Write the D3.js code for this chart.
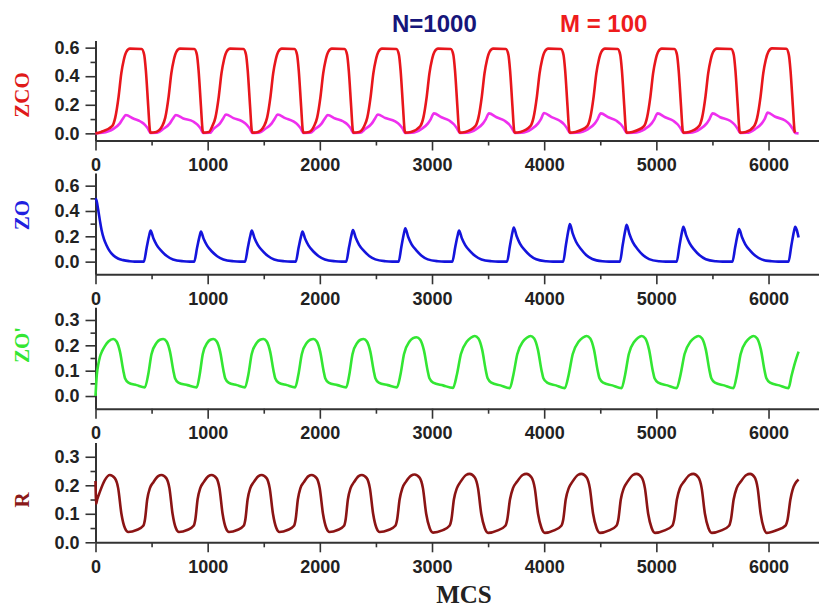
<!DOCTYPE html>
<html>
<head>
<meta charset="utf-8">
<script src="https://cdn.jsdelivr.net/npm/d3@7"></script>
<style>
  body { margin: 0; background: #fff; }
  svg { display: block; }
  .tick text { font-family: "Liberation Sans", Arial, sans-serif; font-weight: bold; font-size: 18px; fill: #222; }
</style>
</head>
<body>
<svg id="chart"></svg>
<script>
// tick values
const xTicks = [0, 1000, 2000, 3000, 4000, 5000, 6000];
const xMinorTicks = [500, 1500, 2500, 3500, 4500, 5500];

// ZCO (red) and second ZCO curve (magenta), [MCS, value]
const zco = [
  [0,0],[50,0.01],[148,0.05],[176,0.11],[206,0.257],[230,0.42],[252,0.514],[276,0.572],[307,0.593],[411,0.59],[434,0.55],[449,0.44],[470,0.19],[485,0.02],[491,0.005],
  [541,0.01],[594,0.05],[622,0.11],[652,0.257],[676,0.42],[698,0.514],[722,0.572],[753,0.593],[881,0.59],[904,0.55],[919,0.44],[940,0.19],[955,0.02],[961,0.005],
  [1011,0.01],[1041,0.05],[1069,0.11],[1099,0.257],[1123,0.42],[1145,0.514],[1169,0.572],[1200,0.593],[1319,0.59],[1342,0.55],[1357,0.44],[1378,0.19],[1393,0.02],[1399,0.005],
  [1449,0.01],[1502,0.05],[1530,0.11],[1560,0.257],[1584,0.42],[1606,0.514],[1630,0.572],[1661,0.593],[1774,0.59],[1797,0.55],[1812,0.44],[1833,0.19],[1848,0.02],[1854,0.005],
  [1904,0.01],[1948,0.05],[1976,0.11],[2006,0.257],[2030,0.42],[2052,0.514],[2076,0.572],[2107,0.593],[2220,0.59],[2243,0.55],[2258,0.44],[2279,0.19],[2294,0.02],[2300,0.005],
  [2350,0.01],[2395,0.05],[2423,0.11],[2453,0.257],[2477,0.42],[2499,0.514],[2523,0.572],[2554,0.593],[2682,0.59],[2705,0.55],[2720,0.44],[2741,0.19],[2756,0.02],[2762,0.005],
  [2812,0.01],[2895,0.05],[2923,0.11],[2953,0.257],[2977,0.42],[2999,0.514],[3023,0.572],[3054,0.593],[3167,0.59],[3190,0.55],[3205,0.44],[3226,0.19],[3241,0.02],[3247,0.005],
  [3297,0.01],[3386,0.05],[3414,0.11],[3444,0.257],[3468,0.42],[3490,0.514],[3514,0.572],[3545,0.593],[3658,0.59],[3681,0.55],[3696,0.44],[3717,0.19],[3732,0.02],[3738,0.005],
  [3788,0.01],[3877,0.05],[3905,0.11],[3935,0.257],[3959,0.42],[3981,0.514],[4005,0.572],[4036,0.593],[4149,0.59],[4172,0.55],[4187,0.44],[4208,0.19],[4223,0.02],[4229,0.005],
  [4279,0.01],[4383,0.05],[4411,0.11],[4441,0.257],[4465,0.42],[4487,0.514],[4511,0.572],[4542,0.593],[4655,0.59],[4678,0.55],[4693,0.44],[4714,0.19],[4729,0.02],[4735,0.005],
  [4785,0.01],[4889,0.05],[4917,0.11],[4947,0.257],[4971,0.42],[4993,0.514],[5017,0.572],[5048,0.593],[5161,0.59],[5184,0.55],[5199,0.44],[5220,0.19],[5235,0.02],[5241,0.005],
  [5291,0.01],[5380,0.05],[5408,0.11],[5438,0.257],[5462,0.42],[5484,0.514],[5508,0.572],[5539,0.593],[5667,0.59],[5690,0.55],[5705,0.44],[5726,0.19],[5741,0.02],[5747,0.005],
  [5797,0.01],[5871,0.05],[5899,0.11],[5929,0.257],[5953,0.42],[5975,0.514],[5999,0.572],[6030,0.595],[6158,0.592],[6181,0.55],[6196,0.44],[6217,0.19],[6232,0.02],[6238,0.005]
];

const zcoSecond = [
  [0,0.0],[60,0.004],[157,0.03],[217,0.07],[242,0.1],[270,0.128],[337,0.104],[401,0.083],[441,0.06],[466,0.035],[491,0.003],
  [551,0.004],[603,0.03],[663,0.07],[688,0.1],[716,0.128],[783,0.104],[871,0.083],[911,0.06],[936,0.035],[961,0.003],
  [1021,0.004],[1050,0.03],[1110,0.07],[1135,0.1],[1163,0.132],[1230,0.107],[1309,0.084],[1349,0.06],[1374,0.035],[1399,0.003],
  [1459,0.004],[1511,0.03],[1571,0.07],[1596,0.1],[1624,0.132],[1691,0.107],[1764,0.084],[1804,0.06],[1829,0.035],[1854,0.003],
  [1914,0.004],[1957,0.03],[2017,0.07],[2042,0.1],[2070,0.128],[2137,0.104],[2210,0.083],[2250,0.06],[2275,0.035],[2300,0.003],
  [2360,0.004],[2404,0.03],[2464,0.07],[2489,0.1],[2517,0.132],[2584,0.107],[2672,0.084],[2712,0.06],[2737,0.035],[2762,0.003],
  [2822,0.004],[2904,0.03],[2964,0.07],[2989,0.1],[3017,0.14],[3084,0.113],[3157,0.088],[3197,0.062],[3222,0.035],[3247,0.003],
  [3307,0.004],[3395,0.03],[3455,0.07],[3480,0.1],[3508,0.14],[3575,0.113],[3648,0.088],[3688,0.062],[3713,0.035],[3738,0.003],
  [3798,0.004],[3886,0.03],[3946,0.07],[3971,0.1],[3999,0.142],[4066,0.114],[4139,0.088],[4179,0.062],[4204,0.035],[4229,0.003],
  [4289,0.004],[4392,0.03],[4452,0.07],[4477,0.1],[4505,0.14],[4572,0.113],[4645,0.088],[4685,0.062],[4710,0.035],[4735,0.003],
  [4795,0.004],[4898,0.03],[4958,0.07],[4983,0.1],[5011,0.14],[5078,0.113],[5151,0.088],[5191,0.062],[5216,0.035],[5241,0.003],
  [5301,0.004],[5389,0.03],[5449,0.07],[5474,0.1],[5502,0.14],[5569,0.113],[5657,0.088],[5697,0.062],[5722,0.035],[5747,0.003],
  [5807,0.004],[5880,0.03],[5940,0.07],[5965,0.1],[5993,0.145],[6060,0.116],[6148,0.09],[6188,0.063],[6213,0.035],[6238,0.003],[6268,0.0]
];

// ZO (blue)
const zo = [
  [0,0.5],[10,0.48],[24,0.41],[40,0.32],[54,0.25],[75,0.18],[98,0.13],[125,0.085],[158,0.05],[200,0.025],[247,0.012],[300,0.004],[350,0.0],
  [431,0],[456,0.11],[479,0.208],[491,0.245],[516,0.184],[546,0.13],[591,0.081],[636,0.044],[691,0.017],[781,0.003],[841,0],
  [880,0],[905,0.107],[928,0.201],[940,0.237],[965,0.178],[995,0.126],[1040,0.078],[1085,0.043],[1140,0.017],[1230,0.003],[1290,0],
  [1333,0],[1358,0.11],[1381,0.208],[1393,0.245],[1418,0.184],[1448,0.13],[1493,0.081],[1538,0.044],[1593,0.017],[1683,0.003],[1743,0],
  [1785,0],[1810,0.107],[1833,0.201],[1845,0.237],[1870,0.178],[1900,0.126],[1945,0.078],[1990,0.043],[2045,0.017],[2135,0.003],[2195,0],
  [2235,0],[2260,0.113],[2283,0.213],[2295,0.25],[2320,0.188],[2350,0.133],[2395,0.083],[2440,0.045],[2495,0.018],[2585,0.003],[2645,0],
  [2702,0],[2727,0.118],[2750,0.224],[2762,0.263],[2787,0.197],[2817,0.139],[2862,0.087],[2907,0.047],[2962,0.018],[3052,0.003],[3112,0],
  [3181,0],[3206,0.11],[3229,0.208],[3241,0.245],[3266,0.184],[3296,0.13],[3341,0.081],[3386,0.044],[3441,0.017],[3531,0.003],[3591,0],
  [3669,0],[3694,0.122],[3717,0.23],[3729,0.27],[3754,0.203],[3784,0.143],[3829,0.089],[3874,0.049],[3929,0.019],[4019,0.003],[4079,0],
  [4169,0],[4194,0.134],[4217,0.252],[4229,0.297],[4254,0.223],[4284,0.157],[4329,0.098],[4374,0.053],[4429,0.021],[4519,0.003],[4579,0],
  [4675,0],[4700,0.131],[4723,0.247],[4735,0.29],[4760,0.218],[4790,0.154],[4835,0.096],[4880,0.052],[4935,0.02],[5025,0.003],[5085,0],
  [5181,0],[5206,0.124],[5229,0.235],[5241,0.276],[5266,0.207],[5296,0.146],[5341,0.091],[5386,0.05],[5441,0.019],[5531,0.003],[5591,0],
  [5678,0],[5703,0.116],[5726,0.219],[5738,0.258],[5763,0.194],[5793,0.137],[5838,0.085],[5883,0.046],[5938,0.018],[6028,0.003],[6088,0],
  [6178,0],[6203,0.124],[6226,0.235],[6238,0.276],[6252,0.25],[6268,0.19]
];

// ZO' (green)
const zoPrime = [
  [0,0.0],[5,0.04],[12,0.085],[25,0.125],[40,0.155],[60,0.178],[85,0.198],[115,0.215],[158,0.225],
  [188,0.215],[218,0.175],[248,0.10],[263,0.07],[293,0.053],[366,0.043],[440,0.034],
  [470,0.085],[499,0.165],[545,0.21],[574,0.222],[604,0.225],
  [634,0.215],[664,0.175],[694,0.10],[709,0.07],[739,0.053],[820,0.043],[902,0.034],
  [929,0.085],[956,0.165],[997,0.21],[1024,0.222],[1051,0.225],
  [1081,0.215],[1111,0.175],[1141,0.10],[1156,0.07],[1186,0.053],[1260,0.043],[1333,0.034],
  [1363,0.085],[1392,0.165],[1438,0.21],[1467,0.222],[1497,0.225],
  [1527,0.215],[1557,0.175],[1587,0.10],[1602,0.07],[1632,0.053],[1706,0.043],[1780,0.034],
  [1809,0.085],[1839,0.165],[1884,0.21],[1914,0.222],[1943,0.225],
  [1973,0.215],[2003,0.175],[2033,0.10],[2048,0.07],[2078,0.053],[2157,0.043],[2235,0.034],
  [2263,0.085],[2291,0.165],[2334,0.21],[2362,0.222],[2390,0.225],
  [2420,0.215],[2450,0.175],[2480,0.10],[2495,0.07],[2525,0.053],[2606,0.043],[2687,0.034],
  [2719,0.085],[2750,0.165],[2799,0.215],[2831,0.228],[2862,0.232],
  [2895,0.222],[2928,0.18],[2961,0.10],[2977,0.07],[3010,0.053],[3098,0.042],[3187,0.032],
  [3222,0.085],[3257,0.165],[3311,0.215],[3346,0.23],[3381,0.237],
  [3414,0.227],[3447,0.183],[3480,0.10],[3496,0.07],[3529,0.053],[3611,0.042],[3693,0.031],
  [3726,0.085],[3760,0.165],[3811,0.215],[3845,0.23],[3878,0.237],
  [3911,0.227],[3944,0.183],[3977,0.10],[3993,0.07],[4026,0.053],[4105,0.042],[4184,0.031],
  [4219,0.085],[4254,0.165],[4308,0.215],[4343,0.23],[4378,0.237],
  [4411,0.227],[4444,0.183],[4477,0.10],[4493,0.07],[4526,0.053],[4608,0.042],[4690,0.031],
  [4722,0.085],[4754,0.165],[4805,0.215],[4837,0.23],[4869,0.237],
  [4902,0.227],[4935,0.183],[4968,0.10],[4984,0.07],[5017,0.053],[5099,0.042],[5181,0.031],
  [5216,0.085],[5251,0.165],[5305,0.215],[5340,0.23],[5375,0.237],
  [5408,0.227],[5441,0.183],[5474,0.10],[5490,0.07],[5523,0.053],[5605,0.042],[5687,0.031],
  [5719,0.085],[5751,0.165],[5802,0.215],[5834,0.23],[5866,0.237],
  [5899,0.227],[5932,0.183],[5965,0.10],[5981,0.07],[6014,0.053],[6096,0.042],[6178,0.031],
  [6205,0.08],[6235,0.13],[6268,0.175]
];

// R (dark red)
const rSeries = [
  [0,0.215],[6,0.135],[15,0.15],[39,0.177],[83,0.218],[128,0.236],
  [172,0.225],[202,0.19],[231,0.10],[262,0.05],[292,0.036],
  [366,0.043],[426,0.058],[441,0.08],[461,0.15],[485,0.19],[515,0.21],[559,0.232],[589,0.236],
  [631,0.225],[659,0.19],[687,0.10],[716,0.05],[744,0.036],
  [817,0.043],[875,0.058],[890,0.08],[910,0.15],[934,0.19],[963,0.21],[1007,0.232],[1036,0.236],
  [1078,0.225],[1105,0.19],[1133,0.10],[1162,0.05],[1190,0.036],
  [1263,0.043],[1321,0.058],[1336,0.08],[1356,0.15],[1380,0.19],[1409,0.21],[1453,0.232],[1482,0.236],
  [1525,0.225],[1553,0.19],[1582,0.10],[1612,0.05],[1640,0.036],
  [1712,0.043],[1770,0.058],[1784,0.08],[1804,0.15],[1827,0.19],[1856,0.21],[1899,0.232],[1928,0.236],
  [1971,0.225],[1999,0.19],[2028,0.10],[2058,0.05],[2086,0.036],
  [2158,0.043],[2216,0.058],[2230,0.08],[2250,0.15],[2274,0.19],[2303,0.21],[2346,0.232],[2375,0.236],
  [2418,0.225],[2446,0.19],[2475,0.10],[2505,0.05],[2533,0.036],
  [2611,0.043],[2673,0.058],[2689,0.08],[2711,0.15],[2736,0.19],[2767,0.212],[2814,0.234],[2845,0.238],
  [2889,0.227],[2919,0.19],[2948,0.10],[2979,0.05],[3009,0.034],
  [3091,0.042],[3156,0.058],[3173,0.08],[3195,0.15],[3222,0.19],[3254,0.212],[3303,0.236],[3336,0.24],
  [3380,0.228],[3410,0.19],[3439,0.10],[3470,0.05],[3500,0.033],
  [3586,0.042],[3654,0.058],[3671,0.08],[3695,0.15],[3722,0.19],[3757,0.212],[3808,0.236],[3842,0.24],
  [3886,0.228],[3916,0.19],[3945,0.10],[3976,0.05],[4006,0.033],
  [4088,0.042],[4153,0.058],[4170,0.08],[4192,0.15],[4219,0.19],[4251,0.212],[4300,0.236],[4333,0.24],
  [4377,0.228],[4407,0.19],[4436,0.10],[4467,0.05],[4497,0.033],
  [4579,0.042],[4644,0.058],[4661,0.08],[4683,0.15],[4710,0.19],[4742,0.212],[4791,0.236],[4824,0.24],
  [4868,0.228],[4898,0.19],[4927,0.10],[4958,0.05],[4988,0.033],
  [5074,0.042],[5142,0.058],[5159,0.08],[5183,0.15],[5210,0.19],[5245,0.212],[5296,0.236],[5330,0.24],
  [5374,0.228],[5404,0.19],[5433,0.10],[5464,0.05],[5494,0.033],
  [5580,0.042],[5648,0.058],[5665,0.08],[5689,0.15],[5716,0.19],[5751,0.212],[5802,0.236],[5836,0.24],
  [5876,0.228],[5903,0.19],[5930,0.10],[5958,0.05],[5985,0.033],
  [6070,0.042],[6150,0.058],[6170,0.08],[6195,0.15],[6215,0.185],[6268,0.22]
];

const width = 819, height = 610;
const svg = d3.select('#chart').attr('width', width).attr('height', height);

const x = d3.scaleLinear().domain([0, 6450]).range([95.5, 819]);

const panels = [
  { label: 'ZCO', labelColor: '#e01a1a', labelY: 95,
    domain: [-0.05, 0.65], range: [140.5, 40.5],
    major: [0, 0.2, 0.4, 0.6], minor: [0.1, 0.3, 0.5],
    series: [{ data: zcoSecond, color: '#ee30ee' }, { data: zco, color: '#e8161c' }] },
  { label: 'ZO', labelColor: '#2020e0', labelY: 215,
    domain: [-0.1, 0.7], range: [274.3, 173],
    major: [0, 0.2, 0.4, 0.6], minor: [0.1, 0.3, 0.5],
    series: [{ data: zo, color: '#1414dc' }] },
  { label: "ZO'", labelColor: '#33e633', labelY: 345,
    domain: [-0.05, 0.35], range: [408.7, 307.3],
    major: [0, 0.1, 0.2, 0.3], minor: [0.05, 0.15, 0.25],
    series: [{ data: zoPrime, color: '#33e633' }] },
  { label: 'R', labelColor: '#8b1a1a', labelY: 500,
    domain: [0, 0.35], range: [542.3, 442.5],
    major: [0, 0.1, 0.2, 0.3], minor: [0.05, 0.15, 0.25],
    series: [{ data: rSeries, color: '#8b1414' }] }
];

const axisColor = '#333';

panels.forEach(p => {
  const y = d3.scaleLinear().domain(p.domain).range(p.range);
  const g = svg.append('g');

  // x axis: labelled major ticks and short minor ticks
  g.append('g').attr('transform', `translate(0,${p.range[0]})`)
    .call(d3.axisBottom(x).tickValues(xTicks).tickSize(10).tickSizeOuter(0).tickPadding(8).tickFormat(d3.format('d')));
  g.append('g').attr('transform', `translate(0,${p.range[0]})`)
    .call(d3.axisBottom(x).tickValues(xMinorTicks).tickSize(5).tickSizeOuter(0).tickFormat(''))
    .select('.domain').remove();

  g.append('g').attr('transform', `translate(${x(0)},0)`)
    .call(d3.axisLeft(y).tickValues(p.major).tickSize(10).tickSizeOuter(0).tickPadding(6).tickFormat(d3.format('.1f')));
  g.append('g').attr('transform', `translate(${x(0)},0)`)
    .call(d3.axisLeft(y).tickValues(p.minor).tickSize(5).tickSizeOuter(0).tickFormat(''))
    .select('.domain').remove();

  g.selectAll('.domain').attr('stroke', axisColor).attr('stroke-width', 2);
  g.selectAll('.tick line').attr('stroke', axisColor).attr('stroke-width', 1.6);

  const line = d3.line().x(d => x(d[0])).y(d => y(d[1])).curve(d3.curveMonotoneX);
  p.series.forEach(s => {
    g.append('path').datum(s.data)
      .attr('fill', 'none')
      .attr('stroke', s.color)
      .attr('stroke-width', 2.6)
      .attr('stroke-linejoin', 'round')
      .attr('d', line);
  });

  svg.append('text')
    .attr('transform', `translate(29,${p.labelY}) rotate(-90)`)
    .attr('text-anchor', 'middle')
    .style('font-family', '"Liberation Serif", "Times New Roman", serif')
    .style('font-weight', 'bold')
    .style('font-size', '21px')
    .attr('fill', p.labelColor)
    .text(p.label);
});

svg.append('text')
  .attr('x', 392).attr('y', 32)
  .style('font-family', '"Liberation Sans", Arial, sans-serif')
  .style('font-weight', 'bold').style('font-size', '24px')
  .attr('fill', '#16167a')
  .text('N=1000');

svg.append('text')
  .attr('x', 560).attr('y', 32)
  .style('font-family', '"Liberation Sans", Arial, sans-serif')
  .style('font-weight', 'bold').style('font-size', '24px')
  .attr('fill', '#ee1c1c')
  .attr('xml:space', 'preserve')
  .text('M = 100');

svg.append('text')
  .attr('x', 464).attr('y', 603)
  .attr('text-anchor', 'middle')
  .style('font-family', '"Liberation Serif", "Times New Roman", serif')
  .style('font-weight', 'bold').style('font-size', '25px')
  .attr('fill', '#222')
  .text('MCS');
</script>
</body>
</html>
